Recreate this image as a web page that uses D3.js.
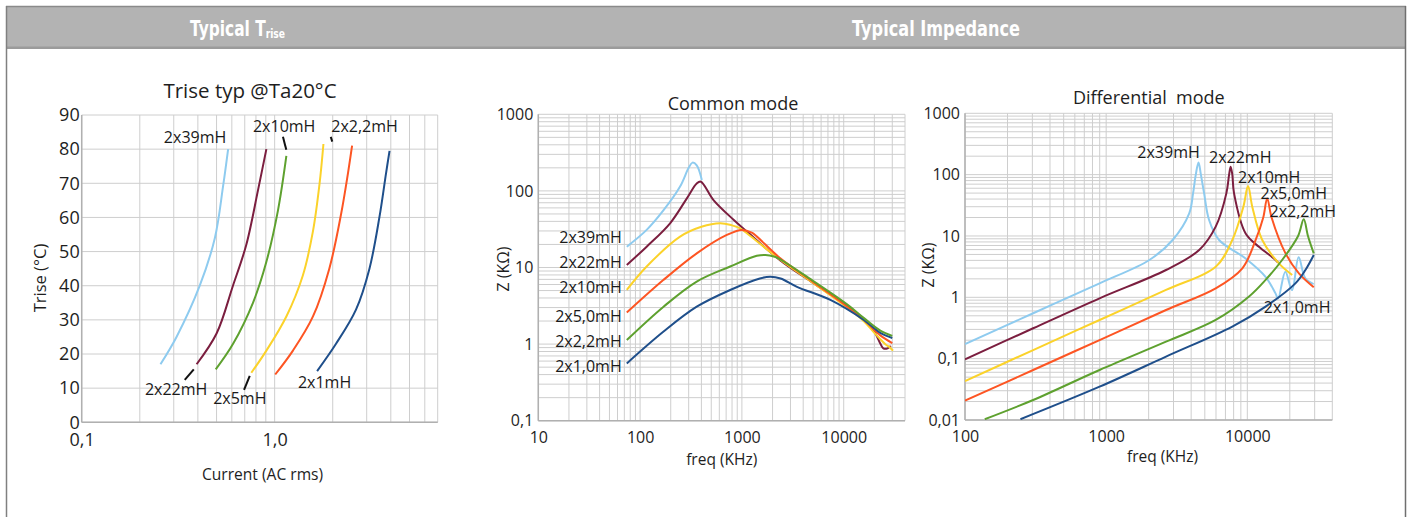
<!DOCTYPE html>
<html>
<head>
<meta charset="utf-8">
<script src="https://cdn.jsdelivr.net/npm/d3@7"></script>
<style>
body { margin: 0; background: #fff; }
svg { display: block; font-family: "Open Sans", sans-serif; }
</style>
</head>
<body>
<svg width="1411" height="517"></svg>
<script>
// ---- Trise: current (A rms) vs temperature rise (degC)
var tr39  = [[0.256,17],[0.31,25],[0.409,40],[0.49,54],[0.54,69],[0.574,80]];
var tr22  = [[0.394,17],[0.5,26],[0.608,40],[0.713,52],[0.82,68],[0.906,80]];
var tr10  = [[0.495,15.5],[0.609,23],[0.772,35],[0.906,47],[1.04,62],[1.15,78]];
var tr5   = [[0.757,14.5],[0.906,21],[1.15,31],[1.40,43],[1.58,56],[1.71,70],[1.79,81.5]];
var tr2_2 = [[1.007,14],[1.244,21],[1.58,31],[1.92,45],[2.21,61],[2.40,73],[2.52,81]];
var tr1   = [[1.66,15],[2.08,23],[2.64,33],[3.10,45],[3.49,60],[3.78,73],[3.94,79.5]];
var trTempTicks = [0,10,20,30,40,50,60,70,80,90];
var trCurTicks = [0.1, 1];
var trCurTickLabels = ["0,1", "1,0"];
// label name, label anchor (current, rise), leader line from/to
var trNames = ["2x39mH","2x22mH","2x10mH","2x5mH","2x2,2mH","2x1mH"];
var trNameAt = [[0.2666,81.9],[0.2126,8.0],[0.772,85.1],[0.480,5.3],[1.965,85.1],[1.32,10.0]];
var trLeaders = [null, [[0.342,12.4],[0.381,15.5]], [[1.104,83.6],[1.149,79.8]], [[0.694,9.5],[0.743,13.6]], [[1.954,83.6],[1.989,82.2]], null];

// ---- Common mode impedance: freq (kHz) vs Z (kOhm)
var cm39  = [[74,18.7],[116,31],[170,56],[247,114],[300,200],[327,234],[360,215],[404,139]];
var cm22  = [[74,10.8],[116,18.7],[197,37.8],[288,80],[360,125],[395,132],[526,76],[828,42],[1120,29.4],[2383,12.4],[5070,6.2],[10790,3.15],[15700,2.05],[20000,1.45],[23000,1.0],[24500,0.88],[27000,0.88],[29000,0.95]];
var cm10  = [[74,5.1],[116,10.3],[247,25.3],[400,34],[612,37.8],[800,35.5],[963,32.5],[1200,26],[2383,12.6],[5070,6.2],[10790,3.0],[15700,2.0],[20000,1.4],[23000,1.15],[26000,0.98],[28000,0.92],[30500,0.82]];
var cm5   = [[74,2.58],[170,6.9],[360,15.3],[711,26.6],[1000,30.9],[1250,28.5],[1405,25.3],[2383,13.2],[5070,6.4],[10790,3.1],[15700,2.1],[22900,1.3],[30000,1.03]];
var cm2_2 = [[74,1.13],[170,3.08],[360,6.55],[767,10.3],[1400,14.2],[1700,14.6],[2100,13.8],[2383,12.8],[5070,6.6],[10790,3.3],[15700,2.2],[22900,1.5],[30000,1.28]];
var cm1   = [[74,0.56],[170,1.46],[360,3.08],[767,5.09],[1500,7.2],[1900,7.6],[2400,7.2],[3475,5.6],[7400,3.77],[15700,2.07],[22900,1.4],[30000,1.2]];
var cmNames = ["2x39mH","2x22mH","2x10mH","2x5,0mH","2x2,2mH","2x1,0mH"];
var cmNameAt = [[66,20.7],[66,9.93],[66,4.6],[66,1.93],[66,0.925],[66,0.436]];

// ---- Differential mode impedance: freq (kHz) vs Z (kOhm)
var dm39  = [[100,0.173],[304,0.55],[898,1.69],[2023,4.06],[2957,8.6],[3876,23.4],[4130,50],[4315,100],[4510,157],[4690,100],[4940,50],[5360,18.2],[6310,8.6],[9720,4.3],[13460,2.16],[15840,1.16],[16520,0.96],[18600,2.61],[20730,1.31],[23100,4.48],[25770,2.03],[29500,1.64]];
var dm22  = [[100,0.0976],[304,0.313],[898,0.964],[2655,2.79],[4560,5.9],[5970,14.2],[7110,50],[7430,100],[7620,135],[7830,100],[8050,50],[9730,11],[12080,6.67],[15420,4.3],[16500,3.7]];
var dm10  = [[100,0.0432],[304,0.138],[898,0.427],[2655,1.32],[5970,3.16],[7830,8.6],[9380,30],[10120,65.3],[10840,30],[12760,8.6],[16730,3.58],[20800,2.31]];
var dm5   = [[100,0.0207],[304,0.0653],[898,0.201],[2655,0.621],[5970,1.4],[9220,2.97],[11460,8.6],[12970,20],[13830,41],[14860,20],[18650,5.2],[23200,2.46],[29560,1.46]];
var dm2_2 = [[138,0.0103],[304,0.0212],[898,0.0653],[2655,0.189],[5970,0.427],[10290,1.03],[13470,1.92],[17650,4.06],[22900,10],[25100,18.7],[26900,10],[29560,5.2]];
var dm1   = [[247,0.0103],[898,0.0349],[2655,0.108],[7830,0.333],[13470,0.705],[21900,1.69],[25800,2.79],[29560,4.9]];
var dmNames = ["2x39mH","2x22mH","2x10mH","2x5,0mH","2x2,2mH","2x1,0mH"];
var dmNameAt = [[1663,184.5],[5358,152.8],[8590,73.8],[12420,40],[14360,20.6],[13100,0.558]];

var zTicks1 = [0.1,1,10,100,1000];
var zTickLabels1 = ["0,1","1","10","100","1000"];
var fTicks1 = [10,100,1000,10000];
var zTicks2 = [0.01,0.1,1,10,100,1000];
var zTickLabels2 = ["0,01","0,1","1","10","100","1000"];
var fTicks2 = [100,1000,10000];

var cLightBlue = "#8ecbef", cMaroon = "#7b1e3f", cYellow = "#fbd22a",
    cOrange = "#fd5523", cGreen = "#5ea12f", cNavy = "#1f4f8b";

var svg = d3.select("svg");

// ---- header band and frame
svg.append("rect").attr("x", 6).attr("y", 6).attr("width", 1399).attr("height", 43).attr("fill", "#b3b3b3");
svg.append("rect").attr("x", 6).attr("y", 46.5).attr("width", 1399).attr("height", 2.5).attr("fill", "#9b9b9b");
svg.append("line").attr("x1", 6).attr("x2", 1406).attr("y1", 6.5).attr("y2", 6.5).attr("stroke", "#8a8a8a").attr("stroke-width", 1.5);
svg.append("line").attr("x1", 6.5).attr("x2", 6.5).attr("y1", 6).attr("y2", 517).attr("stroke", "#808080").attr("stroke-width", 1.5);
svg.append("line").attr("x1", 1405.5).attr("x2", 1405.5).attr("y1", 6).attr("y2", 517).attr("stroke", "#6f6f6f").attr("stroke-width", 1.5);

var h1 = svg.append("text").attr("x", 190).attr("y", 35.5)
  .attr("fill", "#fff").attr("font-family", "DejaVu Sans").attr("font-weight", "bold")
  .attr("font-size", 21).attr("textLength", 95).attr("lengthAdjust", "spacingAndGlyphs");
h1.append("tspan").text("Typical T");
h1.append("tspan").attr("font-size", 12.5).attr("dy", 2.5).text("rise");
svg.append("text").attr("x", 852).attr("y", 35.5)
  .attr("fill", "#fff").attr("font-family", "DejaVu Sans").attr("font-weight", "bold")
  .attr("font-size", 21).attr("textLength", 168).attr("lengthAdjust", "spacingAndGlyphs")
  .text("Typical Impedance");

// ---- generic panel
function panel(p) {
  var g = svg.append("g");
  var x = p.x, y = p.y;
  var x0 = x.range()[0], x1 = x.range()[1], y0 = y.range()[0], y1 = y.range()[1];
  var clipId = "clip" + p.id;
  svg.append("clipPath").attr("id", clipId).append("rect")
    .attr("x", x0).attr("y", y1).attr("width", x1 - x0).attr("height", y0 - y1);

  g.append("g").selectAll("line").data(p.xGrid).join("line")
    .attr("x1", d => x(d)).attr("x2", d => x(d)).attr("y1", y0).attr("y2", y1)
    .attr("stroke", "#cecece").attr("stroke-width", 1);
  g.append("g").selectAll("line").data(p.yGrid).join("line")
    .attr("y1", d => y(d)).attr("y2", d => y(d)).attr("x1", x0).attr("x2", x1)
    .attr("stroke", "#cecece").attr("stroke-width", 1);
  g.append("line").attr("x1", x0).attr("x2", x0).attr("y1", y0).attr("y2", y1).attr("stroke", "#b0b0b0").attr("stroke-width", 1.5);
  g.append("line").attr("x1", x0).attr("x2", x1).attr("y1", y0).attr("y2", y0).attr("stroke", "#b0b0b0").attr("stroke-width", 1.5);

  var yAx = g.append("g").attr("transform", "translate(" + x0 + ",0)")
    .call(d3.axisLeft(y).tickValues(p.yTicks).tickFormat((d, i) => p.yTickLabels[i]).tickSize(0).tickPadding(p.yPad));
  yAx.select(".domain").remove();
  yAx.selectAll("text").attr("font-size", p.tickFont).attr("font-family", "Open Sans").attr("fill", "#1e1e1e");

  var xAx = g.append("g").attr("transform", "translate(0," + y0 + ")")
    .call(d3.axisBottom(x).tickValues(p.xTicks).tickFormat((d, i) => p.xTickLabels[i]).tickSize(0).tickPadding(p.xPad));
  xAx.select(".domain").remove();
  xAx.selectAll("text").attr("font-size", p.tickFont).attr("font-family", "Open Sans").attr("fill", "#1e1e1e");

  var line = d3.line().x(d => x(d[0])).y(d => y(d[1])).curve(d3.curveCatmullRom.alpha(0.5));
  g.append("g").attr("clip-path", "url(#" + clipId + ")")
    .selectAll("path").data(p.series).join("path")
    .attr("d", d => line(d.values)).attr("fill", "none")
    .attr("stroke", d => d.color).attr("stroke-width", 2).attr("stroke-linejoin", "round");

  g.append("text").attr("x", p.title[1]).attr("y", p.title[2]).attr("text-anchor", "middle")
    .attr("font-size", p.title[3]).attr("fill", "#1e1e1e").style("white-space", "pre").text(p.title[0]);
  g.append("text").attr("x", p.xTitle[1]).attr("y", p.xTitle[2]).attr("text-anchor", "middle")
    .attr("font-size", p.xTitle[3]).attr("fill", "#1e1e1e").text(p.xTitle[0]);
  g.append("text").attr("transform", "translate(" + p.yTitle[1] + "," + p.yTitle[2] + ") rotate(-90)")
    .attr("text-anchor", "middle").attr("dy", "0.35em")
    .attr("font-size", p.yTitle[3]).attr("fill", "#1e1e1e").text(p.yTitle[0]);

  g.append("g").selectAll("text").data(p.names).join("text")
    .attr("x", (d, i) => x(p.nameAt[i][0])).attr("y", (d, i) => y(p.nameAt[i][1]))
    .attr("text-anchor", p.nameAnchor).attr("font-size", 16).attr("fill", "#1a1a1a").text(d => d);

  if (p.leaders) {
    g.append("g").selectAll("line").data(p.leaders.filter(d => d)).join("line")
      .attr("x1", d => x(d[0][0])).attr("y1", d => y(d[0][1]))
      .attr("x2", d => x(d[1][0])).attr("y2", d => y(d[1][1]))
      .attr("stroke", "#111").attr("stroke-width", 2);
  }
}

var xTr = d3.scaleLog().domain([0.1, 7]).range([81.7, 437.7]);
var yTr = d3.scaleLinear().domain([0, 90]).range([422.3, 115]);
panel({
  id: 1, x: xTr, y: yTr,
  xGrid: xTr.ticks(), yGrid: trTempTicks,
  xTicks: trCurTicks, xTickLabels: trCurTickLabels,
  yTicks: trTempTicks, yTickLabels: trTempTicks.map(String),
  tickFont: 18, xPad: 11, yPad: 2,
  series: [
    {values: tr39, color: cLightBlue}, {values: tr22, color: cMaroon},
    {values: tr10, color: cGreen}, {values: tr5, color: cYellow},
    {values: tr2_2, color: cOrange}, {values: tr1, color: cNavy}],
  title: ["Trise typ @Ta20\u00b0C", 250, 98, 20.5],
  xTitle: ["Current (AC rms)", 262.5, 480, 15.6],
  yTitle: ["Trise (\u00b0C)", 40, 278, 16.5],
  names: trNames, nameAt: trNameAt, nameAnchor: "start", leaders: trLeaders
});

var xCm = d3.scaleLog().domain([10, 40000]).range([538.3, 905]);
var yCm = d3.scaleLog().domain([0.1, 1000]).range([420.7, 114.3]);
panel({
  id: 2, x: xCm, y: yCm,
  xGrid: xCm.ticks(), yGrid: yCm.ticks(),
  xTicks: fTicks1, xTickLabels: fTicks1.map(String),
  yTicks: zTicks1, yTickLabels: zTickLabels1,
  tickFont: 16, xPad: 11, yPad: 5,
  series: [
    {values: cm39, color: cLightBlue}, {values: cm22, color: cMaroon},
    {values: cm10, color: cYellow}, {values: cm5, color: cOrange},
    {values: cm1, color: cNavy}, {values: cm2_2, color: cGreen}],
  title: ["Common mode", 733, 110, 18],
  xTitle: ["freq (KHz)", 721.7, 465, 15.5],
  yTitle: ["Z (K\u03a9)", 503, 269, 16],
  names: cmNames, nameAt: cmNameAt, nameAnchor: "end"
});

var xDm = d3.scaleLog().domain([100, 40000]).range([965, 1332.3]);
var yDm = d3.scaleLog().domain([0.01, 1000]).range([420, 113.3]);
panel({
  id: 3, x: xDm, y: yDm,
  xGrid: xDm.ticks(), yGrid: yDm.ticks(),
  xTicks: fTicks2, xTickLabels: fTicks2.map(String),
  yTicks: zTicks2, yTickLabels: zTickLabels2,
  tickFont: 16, xPad: 11, yPad: 5,
  series: [
    {values: dm39, color: cLightBlue}, {values: dm22, color: cMaroon},
    {values: dm10, color: cYellow}, {values: dm5, color: cOrange},
    {values: dm2_2, color: cGreen}, {values: dm1, color: cNavy}],
  title: ["Differential  mode", 1148.8, 104, 18],
  xTitle: ["freq (KHz)", 1162.5, 461.7, 15.5],
  yTitle: ["Z (K\u03a9)", 928, 265, 16],
  names: dmNames, nameAt: dmNameAt, nameAnchor: "start"
});
</script>
</body>
</html>
